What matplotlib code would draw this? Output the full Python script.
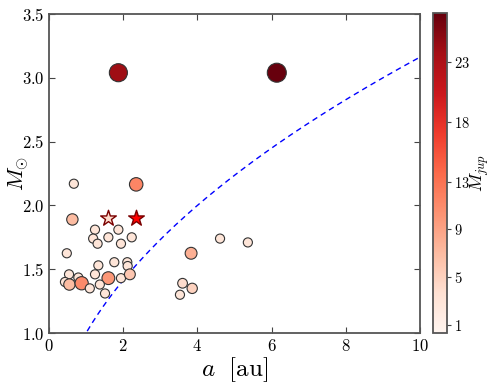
import numpy as np
import matplotlib
matplotlib.use("Agg")
import matplotlib.pyplot as plt
from matplotlib.colors import Normalize
from matplotlib.ticker import FuncFormatter

plt.rcParams['mathtext.fontset'] = 'cm'
plt.rcParams['font.family'] = ['DejaVu Serif']

# Data: semi-major axis [au], stellar mass [Msun], companion mass [Mjup]
a_au = [1.87, 6.14, 0.67, 2.35, 0.63, 1.24, 1.87, 1.19, 1.31, 1.60, 1.94, 2.23,
        4.61, 5.36, 0.48, 3.83, 1.33, 1.76, 2.11, 2.12, 0.54, 1.24, 1.60, 1.94,
        2.18, 0.43, 0.55, 0.79, 0.88, 1.10, 1.37, 1.51, 3.60, 3.86, 3.53]
m_star = [3.04, 3.04, 2.17, 2.165, 1.89, 1.81, 1.81, 1.74, 1.70, 1.75, 1.70, 1.75,
          1.74, 1.71, 1.625, 1.625, 1.53, 1.555, 1.555, 1.525, 1.46, 1.46, 1.43, 1.43,
          1.46, 1.40, 1.38, 1.435, 1.39, 1.35, 1.38, 1.31, 1.39, 1.35, 1.30]
m_jup = [24, 27, 3, 11.5, 7, 3, 3, 3, 3, 3, 3, 3,
         3, 3, 3, 8, 3, 3, 3, 3, 3, 3, 10, 3,
         6, 3, 7, 3, 11, 3, 3, 3, 4, 5, 3]

# Star-marked systems
star_a = [1.60, 2.35]
star_m = [1.90, 1.90]
star_mjup = [4, 18]

cbar_ticks = [1, 5, 9, 13, 18, 23]
x_ticks = [0, 2, 4, 6, 8, 10]
y_ticks = [1.0, 1.5, 2.0, 2.5, 3.0, 3.5]

fig = plt.figure(figsize=(4.91, 3.85), dpi=100)
ax = fig.add_axes([0.0998, 0.135, 0.7556, 0.8286])
cax = fig.add_axes([0.882, 0.135, 0.0285, 0.831])

norm = Normalize(vmin=0.33, vmax=27.1)
cmap = plt.get_cmap('Reds')

sizes = [25 + 6 * m for m in m_jup]
sc = ax.scatter(a_au, m_star, c=m_jup, s=sizes, cmap=cmap, norm=norm,
                edgecolors='#333333', linewidths=0.8, zorder=3)

ax.scatter(star_a[0], star_m[0], marker='*', s=140, color=cmap(norm(star_mjup[0])),
           edgecolors='#7a0000', linewidths=1.0, zorder=4)
ax.scatter(star_a[1], star_m[1], marker='*', s=140, color='#ff0000',
           edgecolors='#7a0000', linewidths=1.0, zorder=4)

aa = np.linspace(0.9, 10, 200)
ax.plot(aa, np.sqrt(aa), color='blue', ls='--', lw=1.0, dashes=(4, 3), zorder=2)

ax.set_xlim(0, 10)
ax.set_ylim(1.0, 3.5)
ax.set_xticks(x_ticks)
ax.set_yticks(y_ticks)
ax.xaxis.set_major_formatter(FuncFormatter(lambda v, p: r'$%d$' % v))
ax.yaxis.set_major_formatter(FuncFormatter(lambda v, p: r'$%.1f$' % v))
ax.tick_params(direction='in', top=True, right=True, length=4, labelsize=12,
               color='#444444')
for sp in ax.spines.values():
    sp.set_color('#555555')
    sp.set_linewidth(1.3)

ax.set_xlabel(r'$a\ \ [\mathrm{au}]$', fontsize=18, labelpad=0)
ax.set_ylabel(r'$M_{\odot}$', fontsize=16)
ax.yaxis.set_label_coords(-0.048, 0.5)

cb = fig.colorbar(sc, cax=cax, ticks=cbar_ticks)
cb.ax.yaxis.set_major_formatter(FuncFormatter(lambda v, p: r'$%d$' % v))
cb.ax.tick_params(labelsize=10.5, length=3, pad=2, color='#444444')
cb.outline.set_edgecolor('#555555')
cb.outline.set_linewidth(1.3)
fig.text(0.978, 0.55, r'$M_{jup}$', rotation=90, ha='center', va='center',
         fontsize=13)

fig.savefig('out.png', dpi=100)
